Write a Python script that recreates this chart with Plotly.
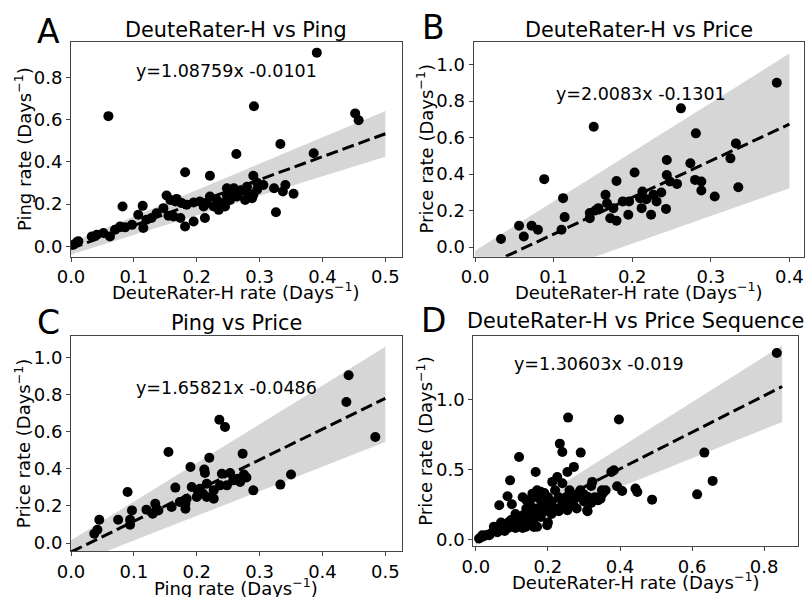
import plotly.graph_objects as go

# ---------------- data ----------------
# Panel A: DeuteRater-H vs Ping
a_x = [0.391, 0.0595, 0.291, 0.452, 0.4575, 0.386, 0.333, 0.263, 0.1815, 0.221, 0.29, 0.354, 0.341, 0.337,
       0.323, 0.326, 0.306, 0.296, 0.29, 0.277, 0.282, 0.259, 0.248, 0.152, 0.166, 0.082, 0.114, 0.107, 0.115,
       0.086, 0.07, 0.1815, 0.195, 0.213, 0.174, 0.136, 0.147, 0.155, 0.184, 0.205, 0.216, 0.221, 0.227, 0.235,
       0.232, 0.24, 0.245, 0.253, 0.259, 0.269, 0.062, 0.0515, 0.041, 0.033, 0.009, 0.004, 0.0117, 0.195, 0.211,
       0.163, 0.128, 0.12, 0.097, 0.078, 0.168, 0.176, 0.158, 0.248, 0.264, 0.288, 0.28, 0.296]
a_y = [0.918, 0.617, 0.664, 0.63, 0.598, 0.441, 0.485, 0.438, 0.351, 0.335, 0.335, 0.249, 0.291, 0.26,
       0.275, 0.162, 0.291, 0.302, 0.244, 0.22, 0.252, 0.275, 0.275, 0.241, 0.2125, 0.189, 0.192, 0.15, 0.087,
       0.09, 0.079, 0.094, 0.118, 0.134, 0.134, 0.157, 0.181, 0.145, 0.197, 0.2125, 0.205, 0.236, 0.189, 0.173,
       0.22, 0.205, 0.189, 0.22, 0.252, 0.26, 0.047, 0.063, 0.055, 0.047, 0.019, 0.008, 0.024, 0.208, 0.189,
       0.142, 0.134, 0.126, 0.102, 0.094, 0.225, 0.205, 0.22, 0.241, 0.236, 0.228, 0.283, 0.268]

# Panel B: DeuteRater-H vs Price
b_x = [0.384, 0.262, 0.151, 0.281, 0.332, 0.325, 0.335, 0.305, 0.288, 0.28, 0.288, 0.274, 0.244, 0.244,
       0.257, 0.248, 0.237, 0.231, 0.243, 0.224, 0.218, 0.213, 0.212, 0.203, 0.196, 0.195, 0.188, 0.18, 0.176,
       0.18, 0.172, 0.166, 0.168, 0.157, 0.146, 0.146, 0.153, 0.112, 0.114, 0.11, 0.088, 0.08, 0.072, 0.056,
       0.062, 0.033, 0.21, 0.227]
b_y = [0.9, 0.76, 0.659, 0.623, 0.568, 0.486, 0.328, 0.277, 0.359, 0.368, 0.31, 0.459, 0.477, 0.395,
       0.346, 0.359, 0.299, 0.25, 0.209, 0.177, 0.262, 0.304, 0.213, 0.408, 0.25, 0.177, 0.25, 0.362, 0.213,
       0.144, 0.158, 0.286, 0.24, 0.213, 0.186, 0.158, 0.2, 0.268, 0.164, 0.095, 0.372, 0.095, 0.117, 0.117,
       0.058, 0.044, 0.268, 0.286]

# Panel C: Ping vs Price
c_x = [0.4416, 0.438, 0.484, 0.236, 0.245, 0.155, 0.273, 0.22, 0.19, 0.212, 0.213, 0.24, 0.253, 0.275,
       0.35, 0.333, 0.29, 0.265, 0.258, 0.237, 0.227, 0.216, 0.205, 0.2, 0.192, 0.184, 0.182, 0.182, 0.166,
       0.16, 0.139, 0.134, 0.13, 0.12, 0.136, 0.097, 0.094, 0.094, 0.09, 0.075, 0.045, 0.042, 0.037, 0.227,
       0.216, 0.248, 0.269, 0.279, 0.173, 0.21]
c_y = [0.905, 0.761, 0.572, 0.665, 0.626, 0.491, 0.482, 0.46, 0.41, 0.396, 0.378, 0.374, 0.378, 0.37,
       0.37, 0.315, 0.284, 0.347, 0.338, 0.311, 0.284, 0.32, 0.293, 0.248, 0.302, 0.239, 0.212, 0.185, 0.299,
       0.194, 0.176, 0.212, 0.158, 0.18, 0.185, 0.176, 0.126, 0.099, 0.275, 0.126, 0.126, 0.072, 0.05, 0.239,
       0.248, 0.311, 0.329, 0.353, 0.221, 0.266]

# Panel D: DeuteRater-H vs Price Sequence
d_x = [0.835, 0.397, 0.256, 0.233, 0.24, 0.291, 0.634, 0.12, 0.657, 0.614, 0.489, 0.448, 0.443, 0.406,
       0.392, 0.383, 0.376, 0.355, 0.339, 0.323, 0.311, 0.272, 0.254, 0.226, 0.212, 0.166, 0.095, 0.088,
       0.065, 0.037, 0.018, 0.009,
       0.02, 0.03, 0.04, 0.05, 0.06, 0.06, 0.07, 0.08, 0.08, 0.09, 0.09, 0.10, 0.10, 0.11, 0.11, 0.12, 0.12,
       0.13, 0.13, 0.14, 0.14, 0.15, 0.15, 0.15, 0.16, 0.16, 0.16, 0.17, 0.17, 0.17, 0.18, 0.18, 0.19, 0.19,
       0.20, 0.20, 0.20, 0.21, 0.21, 0.22, 0.22, 0.23, 0.23, 0.24, 0.25, 0.25, 0.26, 0.26, 0.27, 0.27, 0.28,
       0.28, 0.29, 0.30, 0.30, 0.31, 0.32, 0.32, 0.33, 0.34, 0.35, 0.36, 0.10, 0.13, 0.14, 0.18, 0.097, 0.138,
       0.161, 0.198, 0.189, 0.157, 0.309, 0.254, 0.226, 0.272, 0.346, 0.35, 0.05, 0.07, 0.11, 0.19, 0.24]
d_y = [1.331, 0.855, 0.869, 0.683, 0.624, 0.619, 0.619, 0.588, 0.417, 0.321, 0.283, 0.338, 0.362, 0.345,
       0.379, 0.493, 0.481, 0.338, 0.279, 0.41, 0.302, 0.517, 0.481, 0.445, 0.41, 0.481, 0.421, 0.307,
       0.243, 0.029, 0.029, 0.005,
       0.02, 0.03, 0.04, 0.06, 0.05, 0.08, 0.07, 0.10, 0.06, 0.12, 0.08, 0.10, 0.14, 0.12, 0.08, 0.15, 0.10,
       0.17, 0.08, 0.13, 0.22, 0.15, 0.25, 0.20, 0.12, 0.18, 0.30, 0.22, 0.35, 0.09, 0.16, 0.28, 0.20, 0.33,
       0.24, 0.12, 0.30, 0.18, 0.27, 0.35, 0.22, 0.30, 0.20, 0.26, 0.30, 0.22, 0.35, 0.28, 0.25, 0.31, 0.30,
       0.22, 0.35, 0.27, 0.32, 0.20, 0.38, 0.26, 0.30, 0.28, 0.32, 0.35, 0.25, 0.30, 0.28, 0.34, 0.136, 0.088,
       0.088, 0.10, 0.302, 0.326, 0.207, 0.207, 0.207, 0.302, 0.29, 0.35, 0.09, 0.12, 0.18, 0.26, 0.40]

# regression fits (slope, intercept) as printed on the chart
slopes = [1.08759, 2.0083, 1.65821, 1.30603]
intercepts = [-0.0101, -0.1301, -0.0486, -0.019]
# confidence band: x extent, and band bounds at start and end of extent
band_x = [[0.0, 0.5], [0.0, 0.4], [0.0, 0.5], [0.0, 0.85]]
band_lo = [[-0.039, 0.425], [-0.285, 0.322], [-0.119, 0.545], [-0.043, 0.838]]
band_hi = [[0.017, 0.641], [-0.02, 1.06], [0.015, 1.058], [0.005, 1.386]]

titles = ["DeuteRater-H vs Ping", "DeuteRater-H vs Price", "Ping vs Price", "DeuteRater-H vs Price Sequence"]
letters = ["A", "B", "C", "D"]
xlabels = ["DeuteRater-H rate (Days<sup>\u22121</sup>)", "DeuteRater-H rate (Days<sup>\u22121</sup>)",
           "Ping rate (Days<sup>\u22121</sup>)", "DeuteRater-H rate (Days<sup>\u22121</sup>)"]
ylabels = ["Ping rate (Days<sup>\u22121</sup>)", "Price rate (Days<sup>\u22121</sup>)",
           "Price rate (Days<sup>\u22121</sup>)", "Price rate (Days<sup>\u22121</sup>)"]
xticks = [[0.0, 0.1, 0.2, 0.3, 0.4, 0.5], [0.0, 0.1, 0.2, 0.3, 0.4],
          [0.0, 0.1, 0.2, 0.3, 0.4, 0.5], [0.0, 0.2, 0.4, 0.6, 0.8]]
yticks = [[0.0, 0.2, 0.4, 0.6, 0.8], [0.0, 0.2, 0.4, 0.6, 0.8, 1.0],
          [0.0, 0.2, 0.4, 0.6, 0.8, 1.0], [0.0, 0.5, 1.0]]
eq_pos = [(0.1, 0.8), (0.1, 0.8), (0.1, 0.8), (0.1, 1.2)]

# ---------------- layout geometry ----------------
W, H = 806, 597
xranges = [[0.0, 0.526], [-0.002, 0.419], [0.0, 0.526], [-0.007, 0.893]]
yranges = [[-0.049, 0.967], [-0.053, 1.122], [-0.043, 1.115], [-0.048, 1.452]]
# pixel boxes: left, right, top, bottom
boxes = [(71, 401.7, 42.3, 256.7), (473.5, 804.3, 42.3, 256.7),
         (71, 401.7, 336.3, 551), (473.3, 797.7, 336, 546)]
letter_pos = [(48.5, 31), (433, 27.5), (48.8, 322), (433.3, 320.3)]
title_cy = [30, 30, 323.3, 321]
xlabel_dy = [34, 34, 36, 35]

datasets = [(a_x, a_y), (b_x, b_y), (c_x, c_y), (d_x, d_y)]

fig = go.Figure()
FONT = "DejaVu Sans"
spine = "#444444"

for i in range(4):
    xa = "x" if i == 0 else f"x{i+1}"
    ya = "y" if i == 0 else f"y{i+1}"
    bx = band_x[i]
    fig.add_trace(go.Scatter(x=[bx[0], bx[1], bx[1], bx[0], bx[0]],
                             y=[band_lo[i][0], band_lo[i][1], band_hi[i][1], band_hi[i][0], band_lo[i][0]],
                             fill="toself", fillcolor="rgb(214,214,214)", line=dict(width=0),
                             mode="lines", hoverinfo="skip", showlegend=False, xaxis=xa, yaxis=ya))
    xs, ys = datasets[i]
    fig.add_trace(go.Scatter(x=xs, y=ys, mode="markers",
                             marker=dict(color="black", size=10, line=dict(width=0)),
                             showlegend=False, xaxis=xa, yaxis=ya))
    fx = band_x[i]
    fy = [slopes[i] * v + intercepts[i] for v in fx]
    fig.add_trace(go.Scatter(x=fx, y=fy, mode="lines",
                             line=dict(color="black", width=3, dash="12px,5px"),
                             showlegend=False, xaxis=xa, yaxis=ya))

    l, r, t, b = boxes[i]
    axcommon = dict(showline=True, linecolor=spine, linewidth=1, mirror=True, ticks="outside",
                    ticklen=4, tickwidth=1, tickcolor=spine, showgrid=False, zeroline=False,
                    automargin=False, ticklabeloverflow="allow",
                    tickfont=dict(family=FONT, size=18, color="black"), tickformat=".1f")
    fig.update_layout(**{
        ("xaxis" if i == 0 else f"xaxis{i+1}"): dict(
            domain=[l / W, r / W], anchor=ya, range=xranges[i], tickvals=xticks[i], **axcommon),
        ("yaxis" if i == 0 else f"yaxis{i+1}"): dict(
            domain=[1 - b / H, 1 - t / H], anchor=xa, range=yranges[i], tickvals=yticks[i], **axcommon),
    })
    # axis titles
    fig.add_annotation(text=xlabels[i], xref="paper", yref="paper", x=(l + r) / 2 / W,
                       y=1 - (b + xlabel_dy[i]) / H, xanchor="center", yanchor="middle", showarrow=False,
                       font=dict(family=FONT, size=18, color="black"))
    fig.add_annotation(text=ylabels[i], xref="paper", yref="paper", x=(l - 48.5) / W,
                       y=1 - (t + b) / 2 / H, xanchor="center", yanchor="middle", showarrow=False,
                       textangle=-90, font=dict(family=FONT, size=18, color="black"))
    # subplot title
    fig.add_annotation(text=titles[i], xref="paper", yref="paper", x=(l + r) / 2 / W,
                       y=1 - title_cy[i] / H, xanchor="center", yanchor="middle", showarrow=False,
                       font=dict(family=FONT, size=20.8, color="black"))
    # panel letter
    lx, ly = letter_pos[i]
    fig.add_annotation(text=letters[i], xref="paper", yref="paper", x=lx / W, y=1 - ly / H,
                       xanchor="center", yanchor="middle", showarrow=False,
                       font=dict(family=FONT, size=33, color="black"))
    # equation
    ex, ey = eq_pos[i]
    fig.add_annotation(text=f"y={slopes[i]}x {intercepts[i]}", xref=xa, yref=ya, x=ex, y=ey,
                       xanchor="left", yanchor="bottom", yshift=-5, showarrow=False,
                       font=dict(family=FONT, size=17.5, color="black"))

fig.update_layout(width=W, height=H, autosize=False, margin=dict(l=0, r=0, t=0, b=0),
                  paper_bgcolor="white", plot_bgcolor="white", showlegend=False)

fig.write_html("out.html", config={"displayModeBar": False},
               post_script="document.body.style.margin='0';document.body.style.overflow='hidden';")
